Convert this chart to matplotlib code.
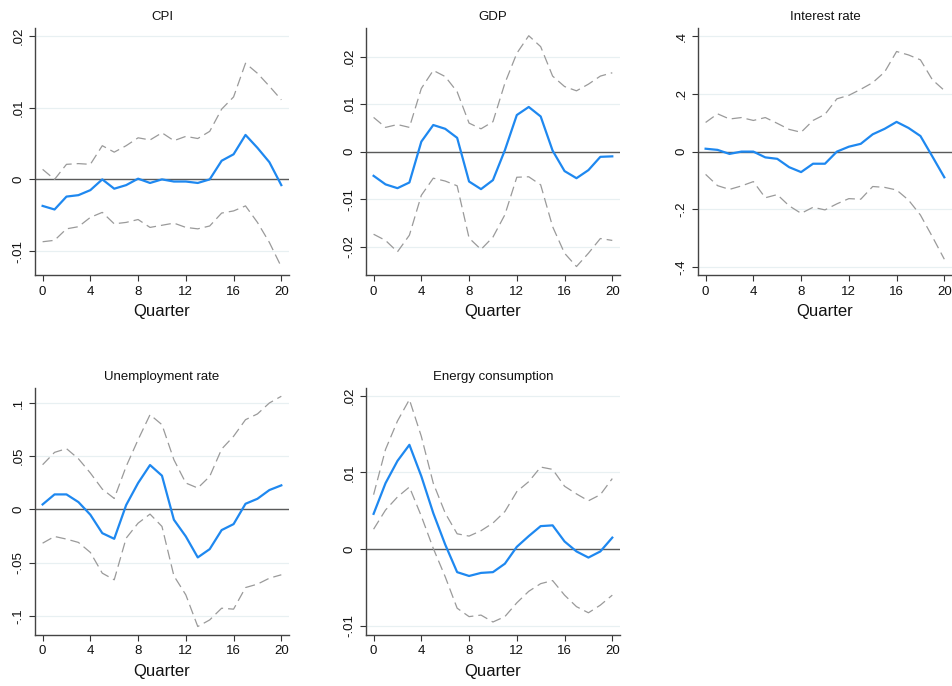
import matplotlib
matplotlib.use("Agg")
import matplotlib.pyplot as plt
import numpy as np

plt.rcParams['font.family'] = ['Liberation Sans', 'DejaVu Sans']

quarters = list(range(21))

cpi_irf = [-0.0037, -0.0042, -0.0024, -0.0022, -0.0015, 0.0000, -0.0013, -0.0008, 0.0001, -0.0005,
           0.0000, -0.0003, -0.0003, -0.0005, 0.0000, 0.0026, 0.0035, 0.0062, 0.0044, 0.0024, -0.0008]
cpi_upper = [0.0014, 0.0000, 0.0021, 0.0022, 0.0021, 0.0047, 0.0038, 0.0047, 0.0058, 0.0055,
             0.0065, 0.0054, 0.0060, 0.0057, 0.0067, 0.0098, 0.0115, 0.0162, 0.0148, 0.0130, 0.0111]
cpi_lower = [-0.0087, -0.0085, -0.0069, -0.0066, -0.0053, -0.0046, -0.0062, -0.0060, -0.0056, -0.0067,
             -0.0064, -0.0061, -0.0067, -0.0069, -0.0065, -0.0047, -0.0044, -0.0037, -0.0060, -0.0088, -0.0122]

gdp_irf = [-0.0051, -0.0069, -0.0077, -0.0065, 0.0021, 0.0056, 0.0048, 0.0029, -0.0063, -0.0079,
           -0.0060, 0.0003, 0.0077, 0.0094, 0.0074, 0.0002, -0.0041, -0.0056, -0.0039, -0.0011, -0.0010]
gdp_upper = [0.0072, 0.0051, 0.0057, 0.0051, 0.0133, 0.0171, 0.0158, 0.0126, 0.0060, 0.0048,
             0.0063, 0.0144, 0.0207, 0.0244, 0.0221, 0.0159, 0.0137, 0.0128, 0.0142, 0.0159, 0.0166]
gdp_lower = [-0.0174, -0.0187, -0.0211, -0.0176, -0.0092, -0.0056, -0.0062, -0.0072, -0.0182, -0.0206,
             -0.0180, -0.0133, -0.0054, -0.0053, -0.0070, -0.0158, -0.0214, -0.0242, -0.0214, -0.0183, -0.0187]

rate_irf = [0.010, 0.006, -0.008, 0.000, 0.000, -0.020, -0.025, -0.054, -0.071, -0.042,
            -0.042, 0.000, 0.017, 0.027, 0.060, 0.079, 0.103, 0.082, 0.054, -0.017, -0.089]
rate_upper = [0.101, 0.131, 0.113, 0.118, 0.108, 0.118, 0.098, 0.077, 0.067, 0.108,
              0.129, 0.183, 0.195, 0.216, 0.239, 0.276, 0.347, 0.335, 0.318, 0.249, 0.212]
rate_lower = [-0.079, -0.118, -0.131, -0.119, -0.104, -0.160, -0.149, -0.188, -0.214, -0.193,
              -0.202, -0.181, -0.163, -0.165, -0.121, -0.124, -0.133, -0.168, -0.220, -0.295, -0.373]

unemp_irf = [0.0047, 0.0141, 0.0141, 0.0069, -0.0050, -0.0223, -0.0276, 0.0041, 0.0248, 0.0417,
             0.0317, -0.0097, -0.0254, -0.0451, -0.0373, -0.0194, -0.0138, 0.0053, 0.0100, 0.0182, 0.0226]
unemp_upper = [0.0420, 0.0536, 0.0571, 0.0476, 0.0342, 0.0191, 0.0103, 0.0404, 0.0655, 0.0890,
               0.0796, 0.0467, 0.0248, 0.0201, 0.0310, 0.0567, 0.0687, 0.0843, 0.0897, 0.1000, 0.1063]
unemp_lower = [-0.0317, -0.0254, -0.0279, -0.0310, -0.0404, -0.0599, -0.0661, -0.0270, -0.0129, -0.0044,
               -0.0160, -0.0624, -0.0803, -0.1100, -0.1038, -0.0928, -0.0937, -0.0734, -0.0702, -0.0646, -0.0614]

energy_irf = [0.0046, 0.0086, 0.0115, 0.0136, 0.0095, 0.0047, 0.0006, -0.0030, -0.0035, -0.0031,
              -0.0030, -0.0019, 0.0003, 0.0017, 0.0030, 0.0031, 0.0010, -0.0003, -0.0011, -0.0003, 0.0015]
energy_upper = [0.0071, 0.0130, 0.0167, 0.0195, 0.0147, 0.0086, 0.0047, 0.0020, 0.0017, 0.0024,
                0.0034, 0.0049, 0.0075, 0.0088, 0.0107, 0.0104, 0.0082, 0.0072, 0.0063, 0.0071, 0.0092]
energy_lower = [0.0026, 0.0051, 0.0068, 0.0081, 0.0043, 0.0001, -0.0036, -0.0077, -0.0088, -0.0086,
                -0.0095, -0.0088, -0.0070, -0.0055, -0.0045, -0.0041, -0.0060, -0.0075, -0.0083, -0.0073, -0.0060]

x_ticks = [0, 4, 8, 12, 16, 20]


def stata_fmt(v):
    """Format a tick value without a leading zero (.01, -.2)."""
    if abs(v) < 1e-12:
        return "0"
    return ("%g" % v).replace("0.", ".")


panels = [
    ("CPI", cpi_irf, cpi_lower, cpi_upper, [-0.01, 0, 0.01, 0.02], (-0.01335, 0.0211),
     [0.0367, 0.599, 0.2665, 0.360]),
    ("GDP", gdp_irf, gdp_lower, gdp_upper, [-0.02, -0.01, 0, 0.01, 0.02], (-0.026, 0.026),
     [0.384, 0.599, 0.2665, 0.360]),
    ("Interest rate", rate_irf, rate_lower, rate_upper, [-0.4, -0.2, 0, 0.2, 0.4], (-0.428, 0.428),
     [0.7324, 0.599, 0.2665, 0.360]),
    ("Unemployment rate", unemp_irf, unemp_lower, unemp_upper, [-0.1, -0.05, 0, 0.05, 0.1], (-0.118, 0.114),
     [0.0367, 0.0743, 0.2665, 0.360]),
    ("Energy consumption", energy_irf, energy_lower, energy_upper, [-0.01, 0, 0.01, 0.02], (-0.0112, 0.0210),
     [0.384, 0.0743, 0.2665, 0.360]),
]

fig = plt.figure(figsize=(9.53, 6.86), dpi=100)
fig.patch.set_facecolor("white")

for title, irf, lo, hi, yt, ylim, rect in panels:
    ax = fig.add_axes(rect)
    ax.set_xlim(-0.64, 20.64)
    ax.set_ylim(*ylim)
    for t in yt:
        ax.axhline(t, color="#e8f0f2", lw=0.9, zorder=0)
    ax.axhline(0, color="#5a5a5a", lw=1.0, zorder=1)
    ax.plot(quarters, hi, color="#9a9a9a", lw=0.9, linestyle=(0, (8, 4)), zorder=2)
    ax.plot(quarters, lo, color="#9a9a9a", lw=0.9, linestyle=(0, (8, 4)), zorder=2)
    ax.plot(quarters, irf, color="#1e88f0", lw=1.6, zorder=3)
    ax.set_title(title, fontsize=9.5, color="#111111", pad=6)
    ax.set_xticks(x_ticks)
    ax.set_yticks(yt)
    ax.set_yticklabels([stata_fmt(v) for v in yt], rotation=90, va="center")
    ax.tick_params(axis="both", labelsize=9.5, color="#333333", length=4, width=0.8,
                   labelcolor="#111111", direction="out")
    ax.set_xlabel("Quarter", fontsize=12, labelpad=5, color="#111111")
    for side in ("top", "right"):
        ax.spines[side].set_visible(False)
    for side in ("left", "bottom"):
        ax.spines[side].set_color("#444444")
        ax.spines[side].set_linewidth(1.0)

fig.savefig("out.png", dpi=100, facecolor="white")
